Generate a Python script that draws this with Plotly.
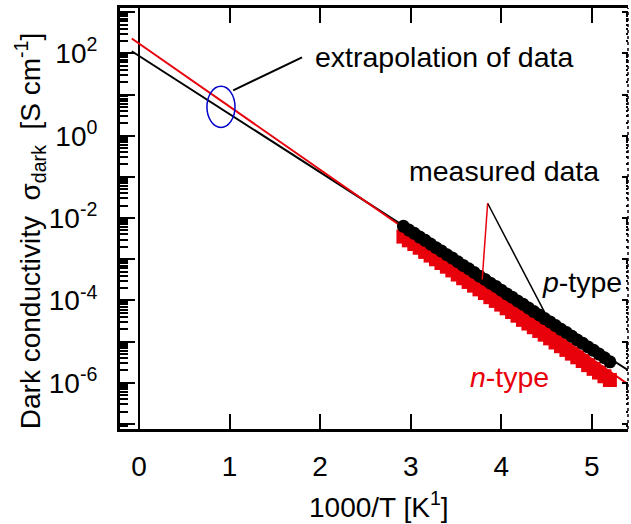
import numpy as np
import plotly.graph_objects as go

# ---- data ----
inv_T = [2.92, 2.98, 3.04, 3.10, 3.16, 3.22, 3.28, 3.34, 3.40, 3.46,
         3.52, 3.58, 3.64, 3.70, 3.76, 3.82, 3.88, 3.94, 4.00, 4.06,
         4.12, 4.18, 4.24, 4.30, 4.36, 4.42, 4.48, 4.54, 4.60, 4.66,
         4.72, 4.78, 4.84, 4.90, 4.96, 5.02, 5.08, 5.14, 5.20]

p_log_sigma = [-2.20, -2.29, -2.37, -2.46, -2.54, -2.63, -2.72, -2.80, -2.89, -2.97,
               -3.06, -3.15, -3.23, -3.32, -3.41, -3.49, -3.58, -3.66, -3.75, -3.84,
               -3.92, -4.01, -4.09, -4.18, -4.27, -4.35, -4.44, -4.52, -4.61, -4.70,
               -4.78, -4.87, -4.96, -5.04, -5.13, -5.21, -5.30, -5.39, -5.49]

n_log_sigma = [-2.45, -2.54, -2.63, -2.72, -2.82, -2.91, -3.00, -3.09, -3.18, -3.27,
               -3.37, -3.46, -3.55, -3.64, -3.73, -3.82, -3.92, -4.01, -4.10, -4.19,
               -4.28, -4.37, -4.47, -4.56, -4.65, -4.74, -4.83, -4.92, -5.02, -5.11,
               -5.20, -5.29, -5.38, -5.47, -5.57, -5.66, -5.75, -5.84, -5.93]

# extrapolation (fit) lines: end points
p_fit_x = [-0.08, 5.45]
p_fit_log_sigma = [2.05, -5.76]
n_fit_x = [-0.08, 5.45]
n_fit_log_sigma = [2.36, -6.11]

x_tick_vals = [0, 1, 2, 3, 4, 5]
x_tick_text = ["0", "1", "2", "3", "4", "5"]
y_label_decades = [-6, -4, -2, 0, 2]
y_label_text = ["10<sup>-6</sup>", "10<sup>-4</sup>", "10<sup>-2</sup>",
                "10<sup>0</sup>", "10<sup>2</sup>"]
y_odd_decades = [-7, -5, -3, -1, 1, 3]

p_sigma = [10 ** v for v in p_log_sigma]
n_sigma = [10 ** v for v in n_log_sigma]
p_fit_sigma = [10 ** v for v in p_fit_log_sigma]
n_fit_sigma = [10 ** v for v in n_fit_log_sigma]

FONT = "Arial, Liberation Sans, sans-serif"
RED = "#e8000b"

fig = go.Figure()
fig.add_trace(go.Scatter(x=p_fit_x, y=p_fit_sigma, mode="lines",
                         line=dict(color="black", width=2), showlegend=False))
fig.add_trace(go.Scatter(x=n_fit_x, y=n_fit_sigma, mode="lines",
                         line=dict(color=RED, width=2), showlegend=False))
fig.add_trace(go.Scatter(x=inv_T, y=n_sigma, mode="markers",
                         marker=dict(symbol="square", size=14, color=RED,
                                     line=dict(width=0)), showlegend=False))
fig.add_trace(go.Scatter(x=inv_T, y=p_sigma, mode="markers",
                         marker=dict(symbol="circle", size=13, color="black",
                                     line=dict(width=0)), showlegend=False))
# dummy traces to activate the extra tick axes
for ax in ["y2", "y3", "y4", "y5"]:
    fig.add_trace(go.Scatter(x=[None], y=[None], yaxis=ax, showlegend=False))

label_vals = [10.0 ** d for d in y_label_decades]
odd_vals = [10.0 ** d for d in y_odd_decades]
major_vals = sorted(label_vals + odd_vals)
minor_vals = [m * 10.0 ** d for d in range(-8, 4) for m in range(2, 10)]
YR = [-7.12, 3.10]

def tick_axis(side, vals, length, width):
    return dict(type="log", range=YR, overlaying="y", side=side,
                tickmode="array", tickvals=vals,
                showticklabels=False, ticks="inside", ticklen=length,
                tickwidth=width, tickcolor="black", showline=False,
                showgrid=False, zeroline=False)

fig.update_layout(
    width=631, height=524,
    margin=dict(l=120, r=3, t=8, b=95),
    paper_bgcolor="white", plot_bgcolor="white",
    font=dict(family=FONT, size=28, color="black"),
    xaxis=dict(
        range=[-0.21, 5.40], tickmode="array", tickvals=x_tick_vals,
        ticktext=x_tick_text, ticks="inside", ticklen=15, tickwidth=2,
        tickcolor="black", showline=True, linewidth=3, linecolor="black",
        mirror="ticks", showgrid=False, zeroline=True, zerolinecolor="black",
        zerolinewidth=2, ticklabelstandoff=10,
    ),
    yaxis=dict(
        type="log", range=YR, tickmode="array", tickvals=label_vals,
        ticktext=y_label_text, ticks="inside", ticklen=15, tickwidth=2,
        tickcolor="black", showline=True, linewidth=3, linecolor="black",
        showgrid=False, zeroline=False, ticklabelstandoff=14,
    ),
    yaxis2=tick_axis("right", major_vals, 6, 2),
    yaxis3=tick_axis("left", minor_vals, 8, 2),
    yaxis4=tick_axis("right", minor_vals, 2, 1.5),
    yaxis5=tick_axis("left", odd_vals, 15, 2),
    showlegend=False,
)

# axis titles as annotations (positioned like the reference)
fig.add_annotation(xref="paper", yref="paper", x=-0.177, y=0.47,
                   text="Dark conductivity  σ<sub>dark</sub>  [S cm<sup>-1</sup>]",
                   textangle=-90, showarrow=False, xanchor="center", yanchor="middle",
                   font=dict(size=28, color="black"))
fig.add_annotation(xref="paper", yref="paper", x=0.51, y=-0.18,
                   text="1000/T [K<sup>1</sup>]", showarrow=False,
                   xanchor="center", yanchor="middle",
                   font=dict(size=28, color="black"))

# right border (thin dotted)
fig.add_shape(type="line", xref="paper", yref="paper", x0=1, x1=1, y0=0, y1=1,
              line=dict(color="black", width=1.5, dash="dot"))

# blue ellipse marking the extrapolated region
fig.add_shape(type="circle", xref="x", yref="y", x0=0.75, x1=1.06,
              y0=10 ** 0.20, y1=10 ** 1.20, line=dict(color="#0000cc", width=1.5))
# leader lines
fig.add_shape(type="line", xref="x", yref="y", x0=1.04, y0=10 ** 1.10,
              x1=1.80, y1=10 ** 1.90, line=dict(color="black", width=2))
fig.add_shape(type="line", xref="x", yref="y", x0=3.85, y0=10 ** -1.64,
              x1=4.48, y1=10 ** -4.29, line=dict(color="black", width=1.5))
fig.add_shape(type="line", xref="x", yref="y", x0=3.85, y0=10 ** -1.64,
              x1=3.79, y1=10 ** -3.49, line=dict(color=RED, width=1.5))

fig.add_annotation(x=1.92, y=1.90, xref="x", yref="y", text="extrapolation of data",
                   showarrow=False, xanchor="left", yanchor="middle",
                   font=dict(size=28.5, color="black"))
fig.add_annotation(x=4.03, y=-0.86, xref="x", yref="y", text="measured data",
                   showarrow=False, xanchor="center", yanchor="middle",
                   font=dict(size=28.5, color="black"))
fig.add_annotation(x=4.43, y=-3.56, xref="x", yref="y", text="<i>p</i>-type",
                   showarrow=False, xanchor="left", yanchor="middle",
                   font=dict(size=28.5, color="black"))
fig.add_annotation(x=3.63, y=-5.86, xref="x", yref="y", text="<i>n</i>-type",
                   showarrow=False, xanchor="left", yanchor="middle",
                   font=dict(size=28.5, color=RED))

fig.write_html("out.html")
